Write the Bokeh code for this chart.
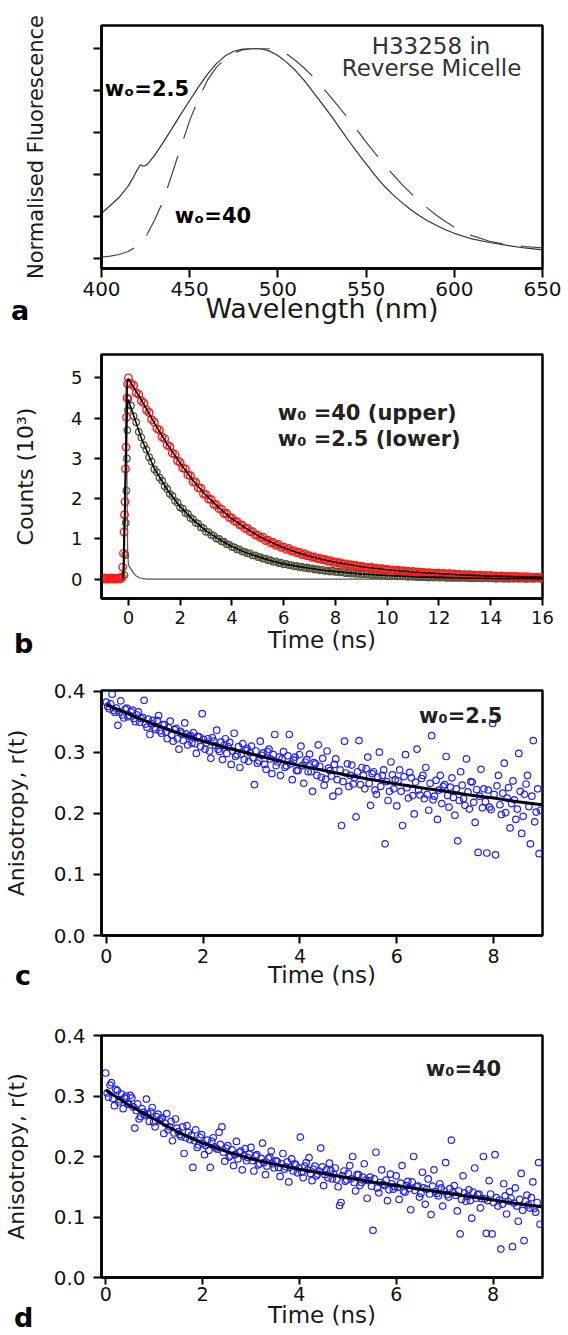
from bokeh.plotting import figure
from bokeh.layouts import column
from bokeh.models import Range1d, Label, FixedTicker, NumeralTickFormatter, CustomJSTickFormatter, Div
from bokeh.embed import file_html
from bokeh.resources import INLINE

FONT = "DejaVu Sans"
W = 568

# ---------------- panel a : steady-state emission ----------------
a_solid_nm = [400, 405, 410, 415, 418, 420, 422, 424, 426, 430, 435, 440, 445, 450, 455, 460, 465, 470,
              475, 480, 485, 490, 495, 500, 505, 510, 515, 520, 525, 530, 535, 540, 545, 550, 555, 560,
              565, 570, 575, 580, 585, 590, 595, 600, 610, 620, 630, 640, 650]
a_fluor_w2_5 = [0.215, 0.252, 0.291, 0.343, 0.385, 0.418, 0.446, 0.439, 0.448, 0.490, 0.553, 0.620, 0.688,
                0.753, 0.818, 0.878, 0.928, 0.965, 0.988, 0.998, 1.0, 1.0, 0.990, 0.968, 0.935, 0.896,
                0.848, 0.793, 0.738, 0.682, 0.622, 0.562, 0.505, 0.451, 0.397, 0.347, 0.305, 0.268,
                0.234, 0.204, 0.178, 0.156, 0.136, 0.119, 0.092, 0.075, 0.061, 0.049, 0.040]
a_dash_nm = [400, 405, 410, 415, 420, 425, 430, 435, 440, 445, 450, 455, 460, 465, 470, 475, 480, 485,
             490, 495, 500, 505, 510, 515, 520, 525, 530, 535, 540, 545, 550, 555, 560, 565, 570, 575,
             580, 585, 590, 595, 600, 610, 620, 630, 640, 650]
a_fluor_w40 = [0.005, 0.010, 0.018, 0.032, 0.056, 0.100, 0.180, 0.275, 0.403, 0.530, 0.658, 0.761, 0.849,
               0.910, 0.952, 0.978, 0.995, 1.0, 1.0, 1.0, 0.995, 0.975, 0.944, 0.907, 0.865, 0.819,
               0.769, 0.718, 0.666, 0.610, 0.554, 0.502, 0.451, 0.402, 0.355, 0.313, 0.275, 0.238,
               0.204, 0.175, 0.148, 0.108, 0.081, 0.065, 0.056, 0.049]
a_x_ticks = [400, 450, 500, 550, 600, 650]
a_y_ticks = [0.0, 0.2, 0.4, 0.6, 0.8, 1.0]

# ---------------- panel b : fluorescence decays (counts / 10^3) ----------------
b_red_lead_ns = [-1.00, -0.95, -0.90, -0.85, -0.80, -0.75, -0.70, -0.65, -0.60, -0.55, -0.50, -0.45,
                 -0.40, -0.35, -0.30, -0.25, -0.22, -0.19, -0.17, -0.15, -0.13, -0.11, -0.09, -0.07,
                 -0.05, -0.03]
b_red_lead_counts = [0.02, 0.00, 0.03, 0.01, 0.00, 0.02, 0.01, 0.03, 0.00, 0.02, 0.01, 0.00, 0.02,
                     0.03, 0.01, 0.05, 0.30, 0.64, 1.17, 1.60, 1.92, 2.74, 3.28, 4.02, 4.50, 4.85]
b_olive_lead_ns = [-0.15, -0.12, -0.10, -0.08, -0.06, -0.04, -0.02]
b_olive_lead_counts = [0.10, 0.60, 1.40, 2.20, 3.00, 3.70, 4.20]

B_CHANNEL_NS = 0.1  # decay channels start at t = 0
b_red_decay_counts = [
    5.00, 4.86, 4.81, 4.63, 4.59, 4.43,
    4.37, 4.20, 4.14, 3.96, 3.90, 3.74, 3.70, 3.53, 3.49, 3.33,
    3.29, 3.13, 3.10, 2.94, 2.90, 2.76, 2.74, 2.59, 2.57, 2.42,
    2.41, 2.27, 2.26, 2.12, 2.10, 1.99, 1.98, 1.86, 1.85, 1.75,
    1.74, 1.63, 1.63, 1.53, 1.52, 1.44, 1.43, 1.35, 1.34, 1.26,
    1.26, 1.18, 1.18, 1.10, 1.09, 1.03, 1.04, 0.96, 0.97, 0.90,
    0.91, 0.84, 0.86, 0.79, 0.80, 0.74, 0.76, 0.70, 0.71, 0.66,
    0.67, 0.61, 0.63, 0.58, 0.58, 0.54, 0.55, 0.51, 0.52, 0.48,
    0.49, 0.45, 0.46, 0.42, 0.43, 0.40, 0.41, 0.37, 0.38, 0.35,
    0.36, 0.33, 0.34, 0.31, 0.32, 0.29, 0.30, 0.28, 0.29, 0.26,
    0.27, 0.25, 0.26, 0.24, 0.24,
    0.22, 0.23, 0.21, 0.22, 0.20, 0.21, 0.19, 0.20, 0.18, 0.19,
    0.17, 0.18, 0.16, 0.17, 0.15, 0.16, 0.15, 0.15, 0.14, 0.15,
    0.13, 0.14, 0.12, 0.14, 0.12, 0.13, 0.11, 0.12, 0.10, 0.11,
    0.10, 0.11, 0.09, 0.10, 0.09, 0.10, 0.08, 0.09, 0.08, 0.09,
    0.07, 0.08, 0.07, 0.08, 0.06, 0.07, 0.06, 0.07, 0.06, 0.07,
    0.05, 0.06, 0.05, 0.06, 0.05, 0.05, 0.04, 0.05, 0.04, 0.05]
b_olive_decay_counts = [
    4.48, 4.31, 4.05, 3.90, 3.66, 3.52,
    3.33, 3.22, 3.03, 2.92, 2.73, 2.66, 2.52, 2.45, 2.31, 2.24,
    2.12, 2.07, 1.95, 1.90, 1.78, 1.75, 1.65, 1.62, 1.52, 1.49,
    1.40, 1.38, 1.29, 1.27, 1.18, 1.17, 1.10, 1.08, 1.01, 1.00,
    0.94, 0.93, 0.87, 0.86, 0.80, 0.79, 0.74, 0.74, 0.69, 0.68,
    0.64, 0.64, 0.59, 0.59, 0.55, 0.55, 0.51, 0.51, 0.47, 0.47,
    0.43, 0.44, 0.40, 0.41, 0.37, 0.38, 0.35, 0.35, 0.32, 0.33,
    0.30, 0.31, 0.28, 0.29, 0.26, 0.27, 0.24, 0.25, 0.22, 0.23,
    0.20, 0.22, 0.19, 0.21, 0.18, 0.19, 0.17, 0.18, 0.15, 0.16,
    0.14, 0.16, 0.13, 0.15, 0.12, 0.14, 0.12, 0.13, 0.10, 0.12,
    0.10, 0.11, 0.09, 0.10, 0.08,
    0.09, 0.08, 0.09, 0.07, 0.08, 0.07, 0.07, 0.06, 0.07, 0.06,
    0.06, 0.05, 0.06, 0.05, 0.05, 0.04, 0.05, 0.04, 0.05, 0.04,
    0.04, 0.05, 0.03, 0.04, 0.03, 0.04, 0.03, 0.03, 0.04, 0.03,
    0.03, 0.02, 0.03, 0.02, 0.03, 0.02, 0.02, 0.03, 0.02, 0.02,
    0.02, 0.01, 0.02, 0.02, 0.01, 0.02, 0.01, 0.02, 0.01, 0.02,
    0.01, 0.02, 0.01, 0.01, 0.02, 0.01, 0.01, 0.02, 0.01, 0.01]
b_fit_ns = [-0.20, -0.04, 0.0, 0.5, 1.0, 1.5, 2.0, 2.5, 3.0, 3.5, 4.0, 4.5, 5.0, 5.5, 6.0, 6.5, 7.0,
            7.5, 8.0, 9.0, 10.0, 11.0, 12.0, 13.0, 14.0, 15.0, 16.0]
b_fit_upper = [0.0, 4.95, 4.98, 4.45, 3.88, 3.35, 2.88, 2.45, 2.08, 1.77, 1.50, 1.28, 1.08, 0.92, 0.78,
               0.67, 0.57, 0.49, 0.42, 0.31, 0.235, 0.18, 0.14, 0.105, 0.08, 0.06, 0.045]
b_fit_lower = [0.0, 4.45, 4.45, 3.50, 2.75, 2.22, 1.80, 1.47, 1.20, 0.99, 0.81, 0.67, 0.56, 0.46, 0.38,
               0.32, 0.27, 0.22, 0.19, 0.13, 0.09, 0.06, 0.045, 0.03, 0.02, 0.015, 0.01]
b_irf_ns = [-1.0, -0.20, -0.16, -0.13, -0.11, -0.09, -0.07, -0.05, -0.03, 0.0, 0.10, 0.20, 0.30, 0.45,
            0.70, 16.0]
b_irf_counts = [0.0, 0.0, 0.2, 1.5, 3.6, 4.9, 3.9, 2.0, 0.7, 0.35, 0.25, 0.15, 0.08, 0.03, 0.0, 0.0]
b_x_ticks = [0, 2, 4, 6, 8, 10, 12, 14, 16]
b_y_ticks = [0, 1, 2, 3, 4, 5]

# ---------------- panels c, d : anisotropy decays ----------------
CD_CHANNEL_NS = 0.03  # anisotropy channels start at t = 0
c_aniso = [
    .382, .375, .371, .379, .395, .368, .365, .372, .344, .366, .384, .361, .356, .370, .372, .358, .360, .366, .369, .355,
    .350, .361, .366, .349, .355, .357, .385, .346, .341, .354, .329, .347, .352, .340, .337, .352, .360, .335, .331, .345,
    .345, .333, .322, .340, .351, .328, .318, .337, .339, .322, .305, .334, .331, .319, .348, .330, .312, .326, .327, .315,
    .332, .314, .298, .326, .325, .309, .363, .321, .305, .315, .322, .302, .290, .324, .318, .311, .336, .305, .301, .317,
    .288, .311, .322, .298, .309, .316, .280, .302, .331, .293, .296, .309, .275, .297, .314, .288, .303, .306, .285, .299,
    .310, .291, .247, .302, .282, .286, .318, .295, .299, .280, .272, .301, .305, .289, .265, .296, .329, .278, .284, .292,
    .262, .289, .301, .275, .278, .294, .329, .281, .255, .287, .292, .270, .270, .296, .310, .278, .249, .284, .288, .268,
    .297, .268, .236, .283, .281, .262, .312, .277, .259, .290, .246, .256, .302, .274, .270, .261, .228, .280, .289, .255,
    .236, .271, .180, .252, .318, .266, .281, .244, .262, .279, .248, .258, .194, .268, .319, .247, .275, .262, .240, .273,
    .292, .249, .213, .265, .268, .238, .231, .259, .300, .244, .262, .271, .150, .252, .221, .236, .284, .263, .240, .255,
    .212, .253, .271, .236, .180, .260, .296, .242, .225, .267, .258, .229, .199, .251, .305, .238, .230, .257, .262, .224,
    .275, .231, .205, .249, .327, .222, .228, .254, .190, .238, .262, .216, .244, .247, .293, .229, .210, .243, .258, .226,
    .197, .240, .155, .221, .268, .246, .224, .213, .289, .235, .207, .252, .251, .218, .185, .239, .136, .228, .272, .209,
    .240, .219, .135, .238, .210, .206, .347, .231, .132, .245, .262, .214, .198, .233, .282, .201, .225, .242, .176, .216,
    .253, .222, .190, .207, .298, .236, .167, .195, .231, .248, .262, .211, .150, .228, .319, .186, .202, .240, .134, .205]
d_aniso = [
    .338, .305, .298, .318, .322, .296, .284, .311, .309, .290, .294, .303, .279, .297, .300, .287, .286, .301, .297, .282,
    .247, .276, .287, .262, .266, .279, .273, .268, .295, .270, .258, .274, .281, .257, .249, .266, .270, .259, .262, .264,
    .238, .255, .271, .244, .249, .258, .226, .239, .262, .247, .241, .236, .233, .249, .205, .231, .251, .240, .228, .235,
    .182, .226, .244, .215, .219, .232, .236, .221, .203, .218, .227, .210, .182, .225, .231, .216, .214, .212, .240, .220,
    .249, .207, .192, .214, .218, .199, .201, .211, .185, .203, .225, .196, .207, .209, .178, .201, .213, .193, .198, .204,
    .215, .193, .176, .201, .203, .186, .188, .197, .222, .190, .170, .184, .197, .199, .209, .188, .181, .193, .192, .182,
    .167, .188, .205, .179, .183, .191, .158, .182, .196, .176, .188, .186, .173, .181, .232, .174, .165, .184, .190, .178,
    .198, .172, .160, .179, .184, .168, .171, .176, .214, .183, .152, .170, .178, .165, .189, .177, .163, .171, .181, .162,
    .150, .119, .124, .168, .176, .159, .161, .172, .185, .163, .200, .157, .143, .170, .170, .152, .157, .166, .188, .161,
    .131, .160, .166, .151, .078, .163, .207, .148, .140, .157, .178, .154, .152, .161, .127, .145, .171, .155, .146, .150,
    .168, .149, .129, .156, .185, .143, .141, .152, .159, .147, .112, .158, .200, .144, .150, .151, .133, .139, .174, .148,
    .121, .146, .163, .138, .104, .151, .178, .142, .139, .135, .155, .148, .118, .143, .190, .137, .133, .147, .227, .141,
    .152, .136, .110, .143, .072, .129, .168, .140, .126, .134, .145, .127, .098, .141, .181, .131, .137, .138, .115, .130,
    .200, .130, .073, .127, .160, .138, .072, .124, .203, .132, .118, .128, .047, .121, .155, .135, .105, .126, .142, .131,
    .051, .123, .148, .118, .093, .129, .172, .111, .061, .126, .136, .120, .115, .132, .158, .114, .108, .124, .190, .088]
cd_fit_ns = [0.0, 0.5, 1.0, 1.5, 2.0, 2.5, 3.0, 3.5, 4.0, 4.5, 5.0, 5.5, 6.0, 6.5, 7.0, 7.5, 8.0, 8.5, 9.0]
c_fit = [0.378, 0.361, 0.345, 0.331, 0.318, 0.307, 0.297, 0.287, 0.278, 0.270, 0.262, 0.255, 0.248,
         0.242, 0.236, 0.230, 0.225, 0.219, 0.214]
d_fit = [0.310, 0.284, 0.262, 0.240, 0.222, 0.208, 0.196, 0.187, 0.179, 0.172, 0.165, 0.158, 0.152,
         0.146, 0.140, 0.134, 0.128, 0.122, 0.117]
cd_x_ticks = [0, 2, 4, 6, 8]
cd_y_ticks = [0.0, 0.1, 0.2, 0.3, 0.4]


def make_fig(h, left, top, fw, fh, xr, yr):
    p = figure(width=W, height=h, x_range=Range1d(*xr), y_range=Range1d(*yr), title=None,
               min_border_left=left, min_border_right=W - left - fw,
               min_border_top=top, min_border_bottom=h - top - fh,
               output_backend="svg", toolbar_location=None, tools="")
    p.background_fill_color = "white"
    p.border_fill_color = "white"
    p.outline_line_color = "black"
    p.outline_line_width = 2.5
    p.outline_line_alpha = 1.0
    p.xgrid.visible = False
    p.ygrid.visible = False
    for ax in (p.xaxis[0], p.yaxis[0]):
        ax.axis_line_width = 2.5
        ax.axis_line_color = "black"
        ax.major_tick_line_width = 2
        ax.major_tick_line_color = "black"
        ax.major_tick_in = 0
        ax.minor_tick_line_color = None
        ax.major_label_text_font = FONT
        ax.major_label_text_color = "#111111"
        ax.axis_label_text_font = FONT
        ax.axis_label_text_font_style = "normal"
        ax.axis_label_text_color = "#1a1a1a"
    return p


def add_text(p, x, y, text, size, bold=False, align="left", color="black", baseline="alphabetic"):
    p.add_layout(Label(x=x, y=y, text=text, text_font=FONT, text_font_size=f"{size}px",
                       text_font_style="bold" if bold else "normal", text_color=color,
                       text_align=align, text_baseline=baseline))


def letter(ch, left, top_shift):
    # panel letter overlaid on the lower-left corner of the figure above it (takes no layout height)
    return Div(text=ch, width=30, height=22, margin=(top_shift, 0, -top_shift - 22, left),
               styles={"font-family": FONT, "font-size": "27px", "font-weight": "bold",
                       "line-height": "22px", "color": "black", "position": "relative",
                       "z-index": "10", "overflow": "visible"})


# ---------------- panel a ----------------
pa = make_fig(340, 90, 25, 452, 243, (400, 650), (-0.049, 1.111))
pa.xaxis.ticker = FixedTicker(ticks=a_x_ticks)
pa.yaxis.ticker = FixedTicker(ticks=a_y_ticks)
pa.yaxis.formatter = CustomJSTickFormatter(code="return ''")
pa.xaxis.major_tick_out = 9
pa.yaxis.major_tick_out = 8
pa.yaxis.major_label_standoff = 0
pa.xaxis.major_label_text_font_size = "20px"
pa.xaxis.major_label_standoff = 4
pa.xaxis.axis_label = "Wavelength (nm)"
pa.xaxis.axis_label_text_font_size = "27px"
pa.xaxis.axis_label_standoff = -6
pa.yaxis.axis_label = "Normalised Fluorescence"
pa.yaxis.axis_label_text_font_size = "21px"
pa.yaxis.axis_label_standoff = 46
pa.line(a_solid_nm, a_fluor_w2_5, line_color="#333333", line_width=1.2)
pa.line(a_dash_nm, a_fluor_w40, line_color="#444444", line_width=1.2, line_dash="34 18")
add_text(pa, 586.8, 1.0124, "H33258 in", 23, align="center", color="#333333", baseline="middle")
add_text(pa, 587.1, 0.906, "Reverse Micelle", 23, align="center", color="#333333", baseline="middle")
add_text(pa, 401.8, 0.809, "w\u2092=2.5", 21, bold=True)
add_text(pa, 441.5, 0.204, "w\u2092=40", 21, bold=True)

# ---------------- panel b ----------------
pb = make_fig(330, 99, 14, 453, 244, (-1.04, 16.0), (-0.48, 5.58))
pb.xaxis.ticker = FixedTicker(ticks=b_x_ticks)
pb.yaxis.ticker = FixedTicker(ticks=b_y_ticks)
pb.xaxis.major_tick_out = 7
pb.yaxis.major_tick_out = 7
pb.xaxis.major_label_text_font_size = "18px"
pb.yaxis.major_label_text_font_size = "18px"
pb.xaxis.major_label_standoff = 5
pb.yaxis.major_label_standoff = 12
pb.xaxis.axis_label = "Time (ns)"
pb.xaxis.axis_label_text_font_size = "23px"
pb.xaxis.axis_label_standoff = 0
pb.yaxis.axis_label = "Counts (10\u00b3)"
pb.yaxis.axis_label_text_font_size = "22px"
pb.yaxis.axis_label_standoff = 30

b_decay_ns = [round(k * B_CHANNEL_NS, 2) for k in range(len(b_red_decay_counts))]
pb.line(b_irf_ns, b_irf_counts, line_color="#555555", line_width=1.2)
pb.scatter(b_olive_lead_ns + b_decay_ns, b_olive_lead_counts + b_olive_decay_counts, marker="circle",
           size=6.5, fill_color=None, line_color="#56563b", line_width=1.3)
pb.scatter(b_red_lead_ns + b_decay_ns, b_red_lead_counts + b_red_decay_counts, marker="circle",
           size=7.5, fill_color=None, line_color="#ff1a1a", line_width=1.4)
pb.line(b_fit_ns, b_fit_lower, line_color="black", line_width=1.6)
pb.line(b_fit_ns, b_fit_upper, line_color="black", line_width=1.6)
add_text(pb, 5.77, 4.12, "w\u2080 =40 (upper)", 21, bold=True, color="#222222")
add_text(pb, 5.77, 3.47, "w\u2080 =2.5 (lower)", 21, bold=True, color="#222222")


# ---------------- panels c, d ----------------
def aniso_fig(h, left, top, fw, fh, xr, yr, data, fit, tag, tag_xy, x_out, x_stand, lab_stand):
    p = make_fig(h, left, top, fw, fh, xr, yr)
    p.xaxis.ticker = FixedTicker(ticks=cd_x_ticks)
    p.yaxis.ticker = FixedTicker(ticks=cd_y_ticks)
    p.yaxis.formatter = NumeralTickFormatter(format="0.0")
    p.xaxis.major_tick_out = x_out
    p.yaxis.major_tick_out = 8
    p.xaxis.major_label_text_font_size = "19px"
    p.yaxis.major_label_text_font_size = "20px"
    p.xaxis.major_label_standoff = x_stand
    p.yaxis.major_label_standoff = 8
    p.xaxis.axis_label = "Time (ns)"
    p.xaxis.axis_label_text_font_size = "23px"
    p.xaxis.axis_label_standoff = lab_stand
    p.yaxis.axis_label = "Anisotropy, r(t)"
    p.yaxis.axis_label_text_font_size = "22px"
    p.yaxis.axis_label_standoff = 22
    t = [round(k * CD_CHANNEL_NS, 2) for k in range(len(data))]
    p.scatter(t, data, marker="circle", size=6.5, fill_color=None, line_color="#1f1fff", line_width=1.2)
    p.line(cd_fit_ns, fit, line_color="black", line_width=3)
    add_text(p, tag_xy[0], tag_xy[1], tag, 21, bold=True, color="#222222")
    return p


pc = aniso_fig(332, 99, 20, 455, 245, (-0.10, 9.01), (0.0, 0.401), c_aniso, c_fit,
               "w\u2080=2.5", (6.46, 0.3586), 8, 5, -4)
pd = aniso_fig(333, 101, 33, 451, 242, (-0.087, 9.02), (0.0, 0.4), d_aniso, d_fit,
               "w\u2080=40", (6.61, 0.345), 7, 2, -2)

layout = column(pa, letter("a", 11, -40), pb, letter("b", 14, -37), pc, letter("c", 15, -37),
                pd, letter("d", 14, -28), spacing=0)
open("out.html", "w").write(file_html(layout, INLINE, "H33258 in reverse micelle"))
